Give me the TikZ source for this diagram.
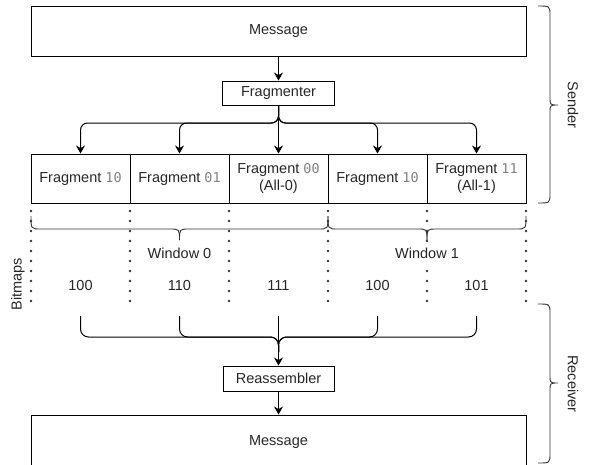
\documentclass[tikz,border=0pt]{standalone}
\usepackage{fontspec}
\setmainfont{Liberation Sans}
\newfontfamily\digitfont{DejaVu Sans Mono}
\usetikzlibrary{arrows.meta}
\newcommand\fdig[1]{{\digitfont\fontsize{13.5}{15}\selectfont\color{black!50}#1}}
\begin{document}
\begin{tikzpicture}[x=1pt,y=-1pt,
  font=\fontsize{14.5}{17}\selectfont,
  box/.style={draw, line width=1pt, inner sep=0pt, align=center, text=black!85},
  arr/.style={line width=1pt, -{Stealth[length=8pt,width=9pt]}},
  ln/.style={line width=1pt},
  brc/.style={line width=0.9pt, draw=black!80},
  dots/.style={line width=2.6pt, line cap=round, dash pattern=on 0pt off 10pt, draw=black!80},
  lab/.style={inner sep=1pt, text=black!85}]
\useasboundingbox (0,0) rectangle (592,464);

% sender side
\node[box, minimum width=495pt, minimum height=50pt] (m1) at (278.5,31) {Message};
\node[box, minimum width=112pt, minimum height=24pt] (fr) at (278.5,93) {Fragmenter};
\draw[arr] (m1.south) -- (fr.north);

\node[box, minimum width=99pt, minimum height=49pt] (f1) at (80.5,178.5) {Fragment \fdig{10}};
\node[box, minimum width=99pt, minimum height=49pt] (f2) at (179.5,178.5) {Fragment \fdig{01}};
\node[box, minimum width=99pt, minimum height=49pt] (f3) at (278.5,178.5) {Fragment \fdig{00}\\(All-0)};
\node[box, minimum width=99pt, minimum height=49pt] (f4) at (377.5,178.5) {Fragment \fdig{10}};
\node[box, minimum width=99pt, minimum height=49pt] (f5) at (476.5,178.5) {Fragment \fdig{11}\\(All-1)};

\coordinate (j1) at (278.5,123);
\foreach \i in {1,2,4,5}
  \draw[arr, rounded corners=7pt] (fr.south) -- (j1) -| (f\i.north);
\draw[arr] (fr.south) -- (f3.north);

% dotted separators
\foreach \i/\xx in {0/31,1/130,2/229,3/328,4/427,5/526}{
  \coordinate (dt\i) at (\xx,211);
  \coordinate (db\i) at (\xx,304);
  \draw[dots] (dt\i) -- (db\i);
}

% window braces
\draw[brc] (31,216) .. controls (31,229) .. (41,229) -- (169.5,229) .. controls (179.5,229) .. (179.5,240);
\draw[brc] (179.5,240) .. controls (179.5,229) .. (189.5,229) -- (318,229) .. controls (328,229) .. (328,216);
\draw[brc] (328,216) .. controls (328,229) .. (338,229) -- (417,229) .. controls (427,229) .. (427,240);
\draw[brc] (427,240) .. controls (427,229) .. (437,229) -- (516,229) .. controls (526,229) .. (526,216);

\node[lab] (w0) at (179.5,253) {Window 0};
\node[lab, fill=white, inner ysep=6pt] (w1) at (427,253) {Window 1};

\node[lab] (b1) at (80.5,286) {100};
\node[lab] (b2) at (179.5,286) {110};
\node[lab] (b3) at (278.5,286) {111};
\node[lab] (b4) at (377.5,286) {100};
\node[lab] (b5) at (476.5,286) {101};
\node[lab, rotate=90] (bm) at (18,284) {Bitmaps};

% receiver side
\node[box, minimum width=111pt, minimum height=25pt] (re) at (278.5,378.5) {Reassembler};
\node[box, minimum width=495pt, minimum height=54pt] (m2) at (278.5,442) {Message};

\foreach \i/\xx in {1/80.5,2/179.5,3/278.5,4/377.5,5/476.5}
  \coordinate (c\i) at (\xx,316);
\coordinate (j2) at (278.5,337);
\foreach \i in {1,2,4,5}
  \draw[ln, rounded corners=8pt] (c\i) |- (j2) -- (278.5,352);
\draw[arr] (c3) -- (re.north);
\draw[arr] (re.south) -- (m2.north);

% side braces
\draw[brc] (538,6) .. controls (550,6) .. (550,16) -- (550,97) .. controls (550,105) .. (558,105)
  .. controls (550,105) .. (550,113) -- (550,193) .. controls (550,203) .. (538,203);
\node[lab, rotate=-90] (snd) at (573,105) {Sender};
\draw[brc] (538,304) .. controls (550,304) .. (550,314) -- (550,375) .. controls (550,383) .. (558,383)
  .. controls (550,383) .. (550,391) -- (550,453) .. controls (550,463) .. (538,463);
\node[lab, rotate=-90] (rcv) at (573,384) {Receiver};
\end{tikzpicture}
\end{document}
